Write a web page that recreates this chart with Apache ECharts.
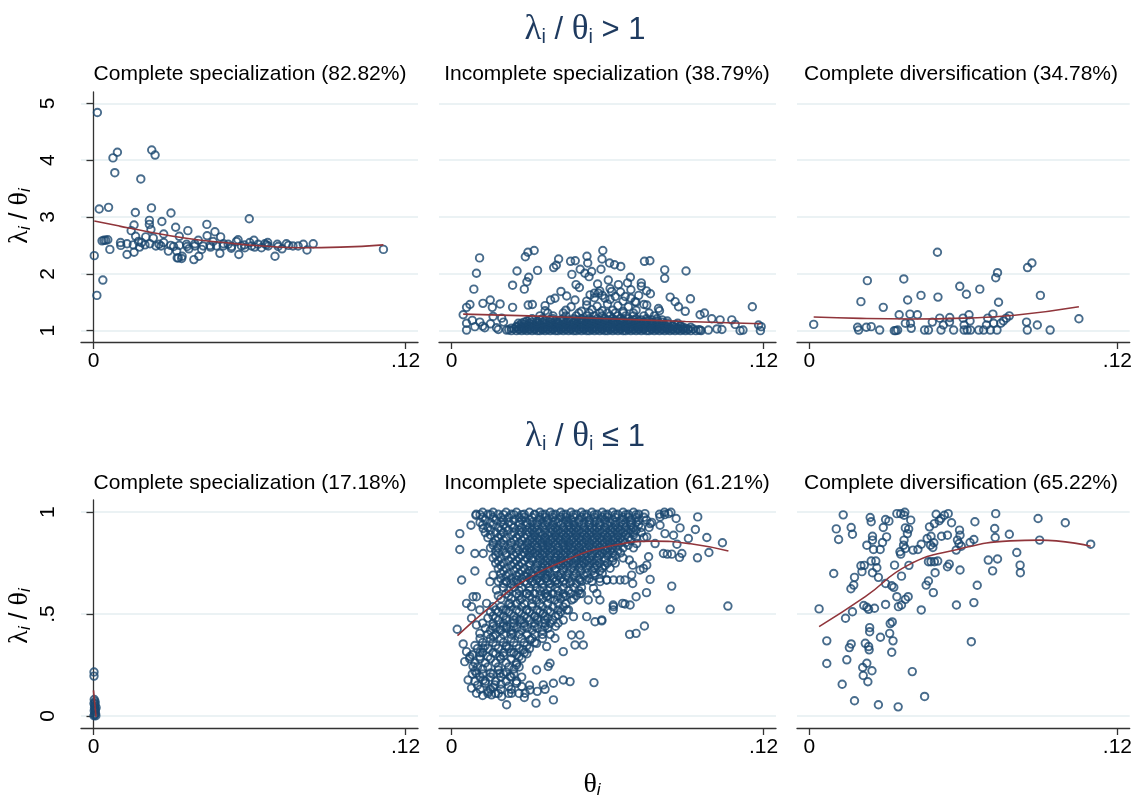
<!DOCTYPE html>
<html>
<head>
<meta charset="utf-8">
<script src="https://cdn.jsdelivr.net/npm/echarts@6.0.0/dist/echarts.min.js"></script>
<style>
  html, body { margin: 0; background: #fff; }
  #main { width: 1135px; height: 795px; }
</style>
</head>
<body>
<div id="main"></div>
<script>
// panel titles
const rowTitles = ['>', '≤'];
const panelTitles = [
  'Complete specialization (82.82%)',
  'Incomplete specialization (38.79%)',
  'Complete diversification (34.78%)',
  'Complete specialization (17.18%)',
  'Incomplete specialization (61.21%)',
  'Complete diversification (65.22%)'
];
const xTicks = [0, 0.12];
const yTicksTop = [1, 2, 3, 4, 5];
const yTicksBottom = [0, 0.5, 1];

// [theta, lambda/theta]
const topSpec = [
  [0.0015,4.84],[0.0075,4.04],[0.0092,4.14],[0.0082,3.78],[0.0224,4.18],[0.0237,4.09],[0.0182,3.67],
  [0.0022,3.14],[0.0058,3.17],[0.0003,2.32],[0.0036,1.89],[0.0013,1.62],[0.0223,3.16],[0.0161,3.08],
  [0.0298,3.07],[0.0599,2.97],[0.0215,2.94],[0.0156,2.86],[0.0263,2.92],[0.0215,2.87],[0.0316,2.82],
  [0.0221,2.78],[0.0145,2.76],[0.0363,2.76],[0.0436,2.87],[0.0467,2.74],[0.0270,2.70],[0.0162,2.66],
  [0.0437,2.67],[0.0330,2.66],[0.0489,2.65],[0.0201,2.65],[0.0040,2.59],[0.0047,2.59],[0.0055,2.60],
  [0.0033,2.58],[0.0063,2.43],[0.0104,2.55],[0.0105,2.50],[0.0129,2.53],[0.0129,2.34],[0.0156,2.38],
  [0.0153,2.51],[0.0177,2.47],[0.0185,2.55],[0.0198,2.51],[0.0217,2.53],[0.0230,2.63],[0.0252,2.52],
  [0.0260,2.49],[0.0297,2.50],[0.0308,2.48],[0.0320,2.40],[0.0326,2.28],[0.0339,2.27],[0.0322,2.28],
  [0.0341,2.31],[0.0358,2.52],[0.0367,2.44],[0.0386,2.25],[0.0405,2.31],[0.0390,2.49],[0.0403,2.59],
  [0.0416,2.43],[0.0422,2.49],[0.0460,2.57],[0.0473,2.49],[0.0486,2.36],[0.0499,2.49],[0.0518,2.52],
  [0.0531,2.48],[0.0550,2.57],[0.0556,2.60],[0.0559,2.34],[0.0569,2.49],[0.0582,2.46],[0.0601,2.55],
  [0.0617,2.59],[0.0633,2.52],[0.0646,2.46],[0.0659,2.53],[0.0672,2.49],[0.0698,2.31],[0.0707,2.52],
  [0.0725,2.44],[0.0742,2.53],[0.0767,2.49],[0.0787,2.49],[0.0807,2.52],[0.0821,2.42],[0.0845,2.53],
  [0.1115,2.43],[0.0240,2.49],[0.0173,2.57],[0.0288,2.40],[0.0448,2.50],[0.0608,2.49],[0.0665,2.51],
  [0.045,2.47],[0.050,2.53],[0.053,2.45],[0.058,2.51],[0.062,2.47],[0.067,2.55],[0.071,2.48],[0.075,2.50],
  [0.036,2.48],[0.039,2.53],[0.027,2.55],[0.033,2.50]
];
const topSpecFit = [[0.0003,2.93],[0.01,2.84],[0.02,2.75],[0.035,2.63],[0.05,2.55],[0.065,2.49],[0.08,2.46],[0.095,2.47],[0.1115,2.51]];

const topIncomp = [
  [0.0108,2.28],[0.0096,2.01],[0.0086,1.73],[0.0318,2.41],[0.0294,2.38],[0.0284,2.30],[0.0252,2.05],
  [0.0235,1.80],[0.0297,1.94],[0.0290,1.86],[0.0280,1.73],[0.0331,2.06],[0.0412,2.26],[0.0403,2.15],
  [0.0393,2.11],[0.0458,2.22],[0.0476,2.23],[0.0521,2.31],[0.0524,2.19],[0.0495,2.08],[0.0463,1.99],
  [0.0513,2.01],[0.0539,2.04],[0.0529,1.95],[0.0575,2.08],[0.0582,2.41],[0.0579,2.26],[0.0608,2.19],
  [0.0627,2.16],[0.0651,2.13],[0.0742,2.22],[0.0763,2.23],[0.0820,2.07],[0.0820,1.92],[0.0902,2.05],
  [0.0688,1.94],[0.0677,1.84],[0.0730,1.84],[0.0765,1.65],[0.0919,1.56],[0.0841,1.59],[0.1157,1.42],
  [0.0479,1.81],[0.0492,1.76],[0.0421,1.69],[0.0562,1.82],[0.0603,1.89],[0.0642,1.81],[0.0149,1.54],
  [0.0121,1.48],[0.0187,1.47],[0.0071,1.46],[0.0058,1.41],[0.0157,1.41],[0.0235,1.41],[0.0295,1.45],
  [0.0311,1.46],[0.0360,1.44],[0.0381,1.54],[0.0398,1.57],[0.0443,1.61],[0.0475,1.54],[0.0533,1.63],
  [0.0565,1.66],[0.0590,1.57],[0.0616,1.69],[0.0668,1.60],[0.0706,1.51],[0.0751,1.45],[0.0796,1.39],
  [0.0860,1.51],[0.0873,1.42],[0.0899,1.34],[0.0956,1.28],[0.0973,1.31],[0.1001,1.21],[0.1033,1.19],
  [0.1078,1.19],[0.1091,1.11],[0.1110,1.00],[0.1121,1.01],[0.1181,1.10],[0.1191,1.07],[0.1188,1.00],
  [0.0045,1.28],[0.0058,1.13],[0.0058,1.01],[0.0090,1.07],[0.0109,1.15],[0.0128,1.05],[0.0173,1.05],
  [0.0193,1.22],[0.0212,1.01],[0.0257,1.13],[0.0956,1.01],[0.0988,1.01],[0.1021,1.03],[0.1040,1.02],
  [0.012,1.08],[0.015,1.12],[0.018,1.02],[0.020,1.15],[0.008,1.18],[0.016,1.25],
  [0.036,1.35],[0.044,1.36],[0.05,1.34],[0.054,1.37],[0.058,1.35],[0.062,1.36],[0.066,1.34],[0.071,1.36],[0.08,1.35],
  [0.046,1.42],[0.052,1.45],[0.056,1.43],[0.06,1.47],[0.064,1.44],[0.068,1.42],[0.074,1.46],
  [0.052,1.52],[0.055,1.58],[0.058,1.62],[0.061,1.55],[0.063,1.6],[0.066,1.52],[0.069,1.57],[0.072,1.62],
  [0.057,1.7],[0.061,1.74],[0.065,1.68],[0.069,1.72],[0.073,1.78],[0.075,1.7],[0.055,1.66],[0.071,1.5]
];
// dense band near 1: [y, thetas]
const topIncompBand = [
  [1.000, [.023,.025,.027,.029,.031,.033,.034,.036,.038,.040,.041,.043,.045,.047,.048,.050,.052,.053,.055,.057,.059,.060,.062,.064,.066,.067,.069,.071,.073,.075,.076,.078,.080,.082,.084,.086,.088,.090,.092,.094,.096]],
  [1.015, [.022,.026,.028,.030,.032,.035,.037,.039,.042,.044,.046,.049,.051,.054,.056,.058,.061,.063,.065,.068,.070,.072,.074,.077,.079,.081,.083,.085,.087,.089,.091,.095]],
  [1.030, [.024,.026,.028,.030,.032,.035,.037,.039,.042,.044,.046,.049,.051,.054,.056,.058,.061,.063,.065,.068,.070,.072,.074,.077,.079,.081,.083,.085,.087,.089,.091,.093]],
  [1.045, [.023,.027,.029,.032,.034,.036,.039,.041,.043,.046,.048,.051,.053,.055,.058,.060,.062,.065,.067,.069,.072,.074,.077,.079,.082,.084,.087,.090]],
  [1.060, [.025,.028,.031,.033,.036,.038,.040,.043,.045,.047,.050,.052,.055,.057,.059,.062,.064,.066,.069,.071,.073,.076,.078,.080,.083,.086,.089,.092]],
  [1.075, [.025,.027,.030,.033,.035,.038,.041,.043,.045,.048,.050,.053,.055,.057,.060,.062,.065,.067,.069,.072,.074,.077,.079,.082,.085,.088]],
  [1.090, [.026,.029,.032,.034,.037,.039,.042,.044,.046,.049,.051,.053,.056,.058,.060,.063,.065,.067,.070,.072,.075,.077,.080,.082,.085,.088]],
  [1.110, [.028,.031,.034,.036,.038,.041,.043,.046,.048,.051,.053,.056,.058,.061,.063,.066,.068,.071,.073,.076,.079,.082,.086]],
  [1.130, [.027,.030,.033,.036,.039,.041,.044,.047,.050,.052,.054,.057,.060,.062,.064,.067,.069,.072,.074,.077,.080,.083,.087]],
  [1.150, [.028,.031,.035,.038,.041,.044,.047,.050,.053,.056,.059,.062,.065,.068,.071,.074,.077,.081]],
  [1.170, [.029,.033,.036,.040,.043,.046,.049,.052,.055,.058,.061,.063,.066,.069,.072,.075,.079,.083]],
  [1.190, [.030,.034,.038,.042,.045,.048,.051,.054,.057,.060,.063,.066,.070,.073,.077,.081]],
  [1.210, [.031,.035,.039,.043,.047,.050,.053,.056,.059,.062,.065,.068,.071,.075,.079]],
  [1.260, [.034,.039,.044,.048,.052,.055,.058,.061,.064,.067,.070,.074,.078]],
  [1.310, [.037,.043,.049,.053,.057,.060,.063,.066,.070,.076]]
];
const topIncompFit = [[0.0045,1.29],[0.03,1.26],[0.06,1.21],[0.09,1.16],[0.119,1.12]];

const topDiv = [
  [0.0017,1.11],[0.0201,1.51],[0.0226,1.88],[0.0288,1.41],[0.0368,1.91],[0.0383,1.54],[0.0435,1.62],
  [0.0499,2.38],[0.0501,1.59],[0.0586,1.78],[0.0612,1.64],[0.0664,1.73],[0.0726,1.93],[0.0733,2.02],
  [0.0737,1.50],[0.0850,2.11],[0.0867,2.19],[0.0900,1.62],[0.1050,1.21],[0.0188,1.06],[0.0192,1.01],
  [0.0222,1.06],[0.0241,1.07],[0.0274,1.01],[0.0331,1.00],[0.0337,1.00],[0.0344,1.01],[0.0350,1.28],
  [0.0392,1.29],[0.0421,1.28],[0.0374,1.13],[0.0394,1.13],[0.0397,1.04],[0.0449,1.01],[0.0464,1.01],
  [0.0479,1.15],[0.0508,1.22],[0.0522,1.10],[0.0547,1.23],[0.0546,1.15],[0.0562,1.01],[0.0513,1.01],
  [0.0599,1.22],[0.0603,1.10],[0.0622,1.28],[0.0626,1.17],[0.0603,1.01],[0.0615,1.01],[0.0628,1.01],
  [0.0660,1.01],[0.0679,1.01],[0.0690,1.10],[0.0695,1.22],[0.0705,1.01],[0.0715,1.29],[0.0718,1.13],
  [0.0731,1.01],[0.0746,1.13],[0.0756,1.17],[0.0767,1.22],[0.0779,1.26],[0.0846,1.15],[0.0849,1.01],
  [0.0888,1.10],[0.0938,1.01]
];
const topDivFit = [[0.0017,1.24],[0.02,1.215],[0.04,1.205],[0.06,1.22],[0.08,1.27],[0.105,1.42]];

const botSpec = [
  [0.0002,0.215],[0.0002,0.195],[0.0003,0.08],[0.0006,0.07],[0.0002,0.06],[0.0005,0.05],[0.0004,0.04],
  [0.0007,0.03],[0.0003,0.025],[0.0006,0.02],[0.0008,0.01],[0.0004,0.005],[0.0009,0.0],[0.0006,0.06],
  [0.0010,0.04],[0.0002,0.0]
];
const botSpecFit = [[0.0,0.125],[0.001,-0.005]];

const botIncomp = [
  [0.0032,0.895],[0.0032,0.817],[0.0039,0.667],[0.0022,0.425],[0.0045,0.353],[0.0090,0.711],[0.0090,0.797],
  [0.0075,0.936],[0.0094,0.985],[0.0122,0.797],[0.0122,0.920],[0.0058,0.552],[0.0077,0.536],[0.0083,0.585],
  [0.0096,0.585],[0.0109,0.520],[0.0135,0.552],[0.0160,0.536],[0.0077,0.479],[0.0096,0.446],[0.0109,0.405],
  [0.0058,0.315],[0.0051,0.266],[0.0071,0.291],[0.0083,0.242],[0.0096,0.209],[0.0109,0.291],[0.0122,0.332],
  [0.0064,0.176],[0.0077,0.136],[0.0096,0.111],[0.0122,0.176],[0.0141,0.119],[0.0154,0.103],[0.0167,0.152],
  [0.0186,0.209],[0.0193,0.095],[0.0212,0.054],[0.0231,0.111],[0.0225,0.193],[0.0250,0.250],[0.0270,0.144],
  [0.0283,0.111],[0.0302,0.127],[0.0327,0.225],[0.0325,0.062],[0.0353,0.152],[0.0372,0.242],[0.0379,0.258],
  [0.0392,0.160],[0.0392,0.078],[0.0430,0.176],[0.0456,0.168],[0.0548,0.163],[0.0430,0.315],[0.0475,0.348],
  [0.0507,0.348],[0.0494,0.397],[0.0462,0.397],[0.0398,0.381],[0.0366,0.340],[0.0327,0.356],[0.0302,0.373],
  [0.0276,0.324],[0.0250,0.299],[0.0212,0.340],[0.0186,0.291],[0.0160,0.389],[0.0186,0.422],[0.0212,0.438],
  [0.0237,0.405],[0.0263,0.471],[0.0289,0.520],[0.0321,0.487],[0.0353,0.503],[0.0379,0.454],[0.0411,0.495],
  [0.0443,0.520],[0.0469,0.487],[0.0520,0.487],[0.0552,0.462],[0.0578,0.471],[0.0623,0.536],[0.0526,0.569],
  [0.0559,0.601],[0.0571,0.569],[0.0597,0.667],[0.0623,0.667],[0.0546,0.626],[0.0494,0.601],[0.0462,0.569],
  [0.0430,0.585],[0.0398,0.569],[0.0366,0.585],[0.0327,0.569],[0.0289,0.601],[0.0263,0.569],[0.0225,0.552],
  [0.0199,0.520],[0.0173,0.618],[0.0148,0.659],[0.0160,0.691],[0.0212,0.659],[0.0250,0.667],[0.0289,0.683],
  [0.0327,0.667],[0.0366,0.675],[0.0404,0.667],[0.0456,0.650],[0.0494,0.667],[0.0520,0.667],[0.0571,0.659],
  [0.0947,0.977],[0.0938,0.915],[0.0982,0.876],[0.0911,0.871],[0.0879,0.923],[0.0864,0.969],[0.0854,0.887],
  [0.1042,0.850],[0.0990,0.802],[0.0946,0.776],[0.0886,0.797],[0.0877,0.778],[0.0847,0.794],[0.0830,0.794],
  [0.0815,0.797],[0.0867,0.843],[0.0847,0.637],[0.0841,0.523],[0.1063,0.539],[0.0764,0.670],[0.0750,0.605],
  [0.0710,0.585],[0.0687,0.544],[0.0667,0.549],[0.0658,0.552],[0.0622,0.544],[0.0622,0.520],[0.0578,0.466],
  [0.0742,0.441],[0.0710,0.405],[0.0685,0.400],[0.0697,0.650],[0.0738,0.724],[0.0751,0.740],[0.0725,0.716],
  [0.0758,0.781],[0.0697,0.740],[0.0684,0.765],[0.0597,0.667],[0.0648,0.667],[0.0667,0.667],[0.0693,0.691],
  [0.0819,1.0],[0.0835,0.993],[0.0844,1.0],[0.0802,0.977],[0.0802,0.936],[0.0821,0.895],[0.0783,0.846],
  [0.0744,0.993],[0.0751,0.879],[0.0712,0.846],[0.0764,0.944],
  [0.008,0.3],[0.011,0.31],[0.014,0.29],[0.017,0.305],[0.02,0.295],[0.023,0.31],[0.026,0.29],[0.029,0.305],
  [0.009,0.22],[0.012,0.23],[0.015,0.21],[0.018,0.225],[0.021,0.215],[0.024,0.23],
  [0.01,0.15],[0.013,0.16],[0.016,0.14],[0.019,0.155],[0.022,0.145],[0.025,0.16],[0.03,0.15],[0.033,0.12],
  [0.036,0.13],[0.012,0.1],[0.017,0.11],[0.028,0.09]
];
// dense mass: [y, thetas]
const botIncompMass = [
  [1.000, [.012,.016,.021,.025,.030,.034,.038,.042,.046,.050,.054,.058,.062,.066,.070]],
  [0.990, [.0095,.014,.018,.023,.028,.032,.036,.040,.044,.048,.052,.056,.060,.064,.068,.072,.080]],
  [0.988, [.011,.015,.020,.024,.027,.032,.035,.039,.043,.047,.051,.055,.059,.063,.067,.071,.082]],
  [0.975, [.012,.016,.019,.022,.026,.028,.031,.034,.036,.039,.042,.044,.047,.050,.052,.055,.058,.060,.063,.066,.068,.071,.074]],
  [0.962, [.013,.017,.020,.024,.027,.030,.034,.037,.040,.044,.046,.049,.053,.056,.059,.062,.066,.069,.072,.075]],
  [0.950, [.011,.015,.019,.022,.026,.029,.031,.033,.035,.037,.039,.041,.043,.045,.047,.049,.051,.053,.055,.057,.059,.061,.063,.065,.067,.069,.071,.077]],
  [0.938, [.012,.016,.020,.023,.026,.029,.033,.036,.039,.042,.045,.047,.050,.053,.057,.060,.063,.066,.069,.072]],
  [0.925, [.014,.018,.021,.024,.027,.030,.032,.035,.038,.040,.043,.046,.048,.051,.054,.056,.059,.062,.064,.067,.070,.073,.076]],
  [0.912, [.015,.019,.022,.026,.029,.031,.033,.036,.039,.041,.043,.045,.047,.049,.051,.053,.055,.057,.059,.061,.063,.065,.067,.069,.071]],
  [0.900, [.013,.017,.020,.024,.027,.030,.032,.034,.036,.038,.040,.042,.044,.046,.048,.050,.052,.054,.056,.058,.060,.062,.064,.066,.068,.070,.073]],
  [0.888, [.015,.019,.023,.026,.029,.032,.035,.037,.040,.043,.045,.048,.051,.053,.056,.059,.061,.064,.067,.070]],
  [0.875, [.014,.018,.021,.025,.028,.031,.033,.036,.039,.041,.044,.047,.049,.052,.055,.057,.060,.063,.065,.068,.071,.074]],
  [0.862, [.017,.020,.024,.027,.030,.032,.034,.036,.038,.040,.042,.044,.046,.048,.050,.052,.054,.056,.058,.060,.062,.064,.066,.069]],
  [0.850, [.016,.019,.023,.026,.029,.031,.033,.035,.037,.039,.041,.043,.045,.047,.049,.051,.053,.055,.057,.059,.061,.063,.065,.067]],
  [0.838, [.016,.020,.023,.027,.029,.032,.035,.037,.040,.043,.045,.048,.050,.053,.056,.058,.061,.064,.068]],
  [0.825, [.015,.018,.022,.025,.028,.030,.033,.036,.038,.041,.044,.046,.049,.052,.054,.057,.060,.062,.066,.070]],
  [0.812, [.017,.020,.023,.026,.029,.031,.033,.035,.037,.039,.041,.043,.045,.047,.049,.051,.053,.055,.057,.059,.061,.064]],
  [0.800, [.018,.021,.025,.028,.030,.032,.034,.036,.038,.040,.042,.044,.046,.048,.050,.052,.054,.056,.058,.060,.062,.065]],
  [0.788, [.017,.021,.024,.027,.030,.033,.035,.038,.041,.043,.046,.049,.051,.054,.057,.060,.063]],
  [0.775, [.016,.019,.023,.026,.029,.031,.034,.037,.040,.042,.045,.048,.050,.053,.056,.059,.062,.066]],
  [0.762, [.018,.022,.025,.028,.031,.034,.036,.038,.040,.042,.044,.046,.048,.050,.052,.054,.056,.059,.062]],
  [0.750, [.017,.020,.024,.027,.030,.033,.035,.037,.039,.041,.043,.045,.047,.049,.051,.053,.055,.057,.060,.063]],
  [0.738, [.019,.023,.026,.030,.033,.036,.039,.042,.044,.047,.050,.053,.056,.059]],
  [0.725, [.018,.021,.025,.028,.032,.035,.037,.040,.043,.046,.049,.052,.055,.058,.061]],
  [0.712, [.020,.024,.027,.030,.033,.035,.037,.040,.043,.047,.050,.054,.057]],
  [0.700, [.019,.022,.026,.029,.031,.034,.036,.038,.042,.045,.048,.052,.055,.058]],
  [0.688, [.021,.025,.028,.031,.034,.037,.041,.044,.047,.051,.055]],
  [0.675, [.019,.023,.027,.030,.033,.036,.039,.042,.045,.049,.053,.057]],
  [0.660, [.018,.021,.024,.028,.031,.034,.037,.040,.043,.046,.050,.054]],
  [0.650, [.020,.023,.026,.029,.032,.035,.038,.041,.044,.048]],
  [0.630, [.020,.024,.027,.030,.033,.035,.038,.040,.043,.047,.050]],
  [0.615, [.022,.026,.030,.034,.037,.041,.045,.049]],
  [0.600, [.021,.025,.029,.032,.036,.039,.043,.046,.050]],
  [0.590, [.018,.022,.026,.030,.034,.037,.041,.044,.048]],
  [0.575, [.019,.023,.027,.031,.035,.038,.042,.047]],
  [0.550, [.022,.025,.028,.031,.034,.037,.041,.044]],
  [0.535, [.019,.023,.027,.031,.035,.039,.043]],
  [0.520, [.017,.021,.025,.029,.033,.037,.041,.045]],
  [0.510, [.015,.018,.022,.026,.030,.034,.038,.042]],
  [0.490, [.016,.020,.024,.028,.032,.036,.040]],
  [0.480, [.014,.017,.021,.025,.029,.033,.037]],
  [0.470, [.018,.021,.024,.027,.030,.033,.036,.039,.043]],
  [0.455, [.012,.016,.020,.024,.028,.032,.036,.041]],
  [0.440, [.016,.020,.024,.028,.032,.036,.040]],
  [0.430, [.013,.017,.021,.025,.029,.033,.037]],
  [0.420, [.015,.019,.023,.027,.031,.035]],
  [0.400, [.014,.017,.020,.023,.026,.029,.032,.035,.038]],
  [0.380, [.011,.015,.019,.023,.027,.031,.035]],
  [0.360, [.012,.016,.020,.024,.028,.032]],
  [0.345, [.009,.013,.017,.021,.025,.029]],
  [0.330, [.010,.014,.018,.022,.026,.030]],
  [0.310, [.012,.016,.020,.024,.028]],
  [0.280, [.007,.011,.015,.019,.023,.027]],
  [0.260, [.009,.013,.017,.021,.025]],
  [0.240, [.010,.014,.018,.022,.026]],
  [0.205, [.008,.012,.016,.020,.024]],
  [0.190, [.011,.015,.019,.023,.027]],
  [0.170, [.009,.013,.017,.021,.025]],
  [0.130, [.011,.015,.019,.023]],
  [0.110, [.014,.018,.022,.026]]
];
const botIncompFit = [[0.0023,0.394],[0.0135,0.52],[0.0263,0.65],[0.0456,0.773],[0.06,0.83],[0.0776,0.858],[0.092,0.845],[0.1065,0.809]];

const botDiv = [
  [0.0038,0.525],[0.0068,0.368],[0.0068,0.257],[0.0095,0.699],[0.0105,0.918],[0.0114,0.866],[0.0132,0.987],
  [0.0163,0.925],[0.0168,0.892],[0.0128,0.155],[0.0141,0.479],[0.0146,0.275],[0.0156,0.335],[0.0163,0.353],
  [0.0168,0.511],[0.0162,0.624],[0.0173,0.642],[0.0176,0.680],[0.0176,0.074],[0.0201,0.737],[0.0205,0.708],
  [0.0214,0.739],[0.0212,0.542],[0.0218,0.356],[0.0224,0.258],[0.0208,0.237],[0.0210,0.198],[0.0228,0.167],
  [0.0244,0.221],[0.0231,0.340],[0.0233,0.324],[0.0235,0.433],[0.0235,0.413],[0.0224,0.533],[0.0231,0.523],
  [0.0254,0.528],[0.0246,0.703],[0.0241,0.760],[0.0259,0.760],[0.0263,0.727],[0.0269,0.680],[0.0224,0.838],
  [0.0237,0.974],[0.0241,0.953],[0.0246,0.882],[0.0250,0.817],[0.0246,0.863],[0.0276,0.817],[0.0285,0.851],
  [0.0288,0.925],[0.0297,0.964],[0.0310,0.956],[0.0301,0.879],[0.0269,0.054],[0.0277,0.386],[0.0297,0.547],
  [0.0297,0.650],[0.0313,0.405],[0.0315,0.453],[0.0323,0.461],[0.0326,0.368],[0.0321,0.312],[0.0321,0.639],
  [0.0329,0.631],[0.0332,0.740],[0.0341,0.585],[0.0346,0.044],[0.0347,0.536],[0.0359,0.544],[0.0359,0.686],
  [0.0356,0.794],[0.0353,0.806],[0.0341,0.993],[0.0356,0.993],[0.0372,1.0],[0.0369,0.985],[0.0374,0.923],
  [0.0369,0.863],[0.0367,0.838],[0.0374,0.822],[0.0382,0.895],[0.0387,0.917],[0.0395,0.961],[0.0388,0.739],
  [0.0374,0.572],[0.0385,0.585],[0.0401,0.217],[0.0404,0.814],[0.0423,0.817],[0.0436,0.843],[0.0436,0.520],
  [0.0449,0.095],[0.0455,0.642],[0.0464,0.662],[0.0483,0.605],[0.0490,0.703],[0.0464,0.757],[0.0474,0.757],
  [0.0487,0.757],[0.0500,0.760],[0.0468,0.928],[0.0459,0.871],[0.0474,0.882],[0.0472,0.838],[0.0481,0.827],
  [0.0485,0.850],[0.0487,0.944],[0.0494,0.990],[0.0506,0.958],[0.0513,0.969],[0.0526,0.985],[0.0541,0.993],
  [0.0554,0.948],[0.0515,0.882],[0.0538,0.887],[0.0538,0.732],[0.0545,0.745],[0.0572,0.814],[0.0573,0.544],
  [0.0585,0.912],[0.0587,0.887],[0.0577,0.863],[0.0583,0.846],[0.0592,0.833],[0.0587,0.716],[0.0626,0.851],
  [0.0641,0.866],[0.0645,0.953],[0.0641,0.556],[0.0654,0.641],[0.0631,0.364],[0.0697,0.765],[0.0714,0.712],
  [0.0733,0.770],[0.0722,0.920],[0.0726,0.993],[0.0724,0.876],[0.0779,0.892],[0.0808,0.802],[0.0821,0.740],
  [0.0822,0.703],[0.0891,0.969],[0.0897,0.863],[0.0997,0.948],[0.1096,0.843]
];
const botDivFit = [[0.0038,0.438],[0.0218,0.585],[0.0385,0.74],[0.0577,0.817],[0.0782,0.859],[0.0897,0.863],[0.1096,0.833]];

const unrow = rows => rows.flatMap(([y, xs]) => xs.map(x => [x, y]));

const panels = [
  [topSpec, topSpecFit],
  [topIncomp.concat(unrow(topIncompBand)), topIncompFit],
  [topDiv, topDivFit],
  [botSpec, botSpecFit],
  [botIncomp.concat(unrow(botIncompMass)), botIncompFit],
  [botDiv, botDivFit]
];

const NAVY = '#1a476f';
const MAROON = '#90353b';
const TITLE = '#1e3a5f';
const SANS = 'Liberation Sans, Arial, sans-serif';
const SERIF = 'Liberation Serif, Times New Roman, serif';
const lefts = [81, 439, 797];
const centers = [250, 607, 961];

const shortNum = v => String(+v.toFixed(4)).replace(/^0\./, '.');

const grid = [], xAxis = [], yAxis = [], series = [];
panels.forEach(([pts, fit], i) => {
  const col = i % 3, top = i < 3;
  const yTicks = top ? yTicksTop : yTicksBottom;
  grid.push({left: lefts[col], top: top ? 92 : 500, width: 337, height: top ? 250 : 228});
  xAxis.push({
    type: 'value', gridIndex: i, min: -0.0048, max: 0.1248,
    axisLine: {show: true, onZero: false, lineStyle: {color: '#333', width: 1.3}},
    axisTick: {show: true, length: 7, customValues: xTicks, lineStyle: {color: '#333', width: 1.3}},
    axisLabel: {customValues: xTicks, formatter: shortNum, fontSize: 21, color: '#000', fontFamily: SANS, margin: 9},
    splitLine: {show: false}
  });
  yAxis.push({
    type: 'value', gridIndex: i,
    min: top ? 0.8 : -0.06, max: top ? 5.2 : 1.06,
    axisLine: {show: col === 0, lineStyle: {color: '#333', width: 1.3}},
    axisTick: {show: col === 0, length: 7, customValues: yTicks, lineStyle: {color: '#333', width: 1.3}},
    axisLabel: {show: col === 0, customValues: yTicks, formatter: shortNum, rotate: 90,
      fontSize: 21, color: '#000', fontFamily: SANS, margin: 22},
    splitLine: {show: true, customValues: yTicks, lineStyle: {color: '#e5eef1', width: 1.5}}
  });
  series.push({
    type: 'scatter', xAxisIndex: i, yAxisIndex: i, data: pts, symbol: 'circle', symbolSize: 7.5,
    itemStyle: {color: 'rgba(0,0,0,0)', borderColor: NAVY, borderWidth: 1.9}, silent: true
  });
  series.push({
    type: 'line', xAxisIndex: i, yAxisIndex: i, data: fit, smooth: true, symbol: 'none', z: 5,
    lineStyle: {color: MAROON, width: 1.6}, silent: true
  });
});

// greek + subscript text
const titleRich = {
  g: {fontFamily: SERIF, fontSize: 35, fill: TITLE},
  s: {fontFamily: SANS, fontSize: 20, fill: TITLE, padding: [14, 0, 0, 0]},
  n: {fontFamily: SANS, fontSize: 31, fill: TITLE}
};
const axisRich = {
  g: {fontFamily: SERIF, fontSize: 28, fill: '#000'},
  s: {fontFamily: SANS, fontSize: 17, fontStyle: 'italic', fill: '#000', padding: [10, 0, 0, 0]},
  n: {fontFamily: SANS, fontSize: 25, fill: '#000'}
};

const graphic = [];
rowTitles.forEach((op, r) => {
  graphic.push({type: 'text', x: 585, y: r ? 437 : 30,
    style: {text: '{g|λ}{s|i}{n| / }{g|θ}{s|i}{n| ' + op + ' 1}', rich: titleRich, align: 'center', verticalAlign: 'middle'}});
  graphic.push({type: 'text', x: 20, y: r ? 616 : 216, rotation: Math.PI / 2,
    style: {text: '{g|λ}{s|i}{n| / }{g|θ}{s|i}', rich: axisRich, align: 'center', verticalAlign: 'middle'}});
});
panelTitles.forEach((t, i) => {
  graphic.push({type: 'text', x: centers[i % 3], y: i < 3 ? 74 : 483,
    style: {text: t, fontFamily: SANS, fontSize: 21, fill: '#000', align: 'center', verticalAlign: 'middle'}});
});
graphic.push({type: 'text', x: 592, y: 785,
  style: {text: '{g|θ}{s|i}', rich: axisRich, align: 'center', verticalAlign: 'middle'}});

const chart = echarts.init(document.getElementById('main'));
chart.setOption({
  animation: false,
  backgroundColor: '#fff',
  grid, xAxis, yAxis, series, graphic
});
</script>
</body>
</html>
